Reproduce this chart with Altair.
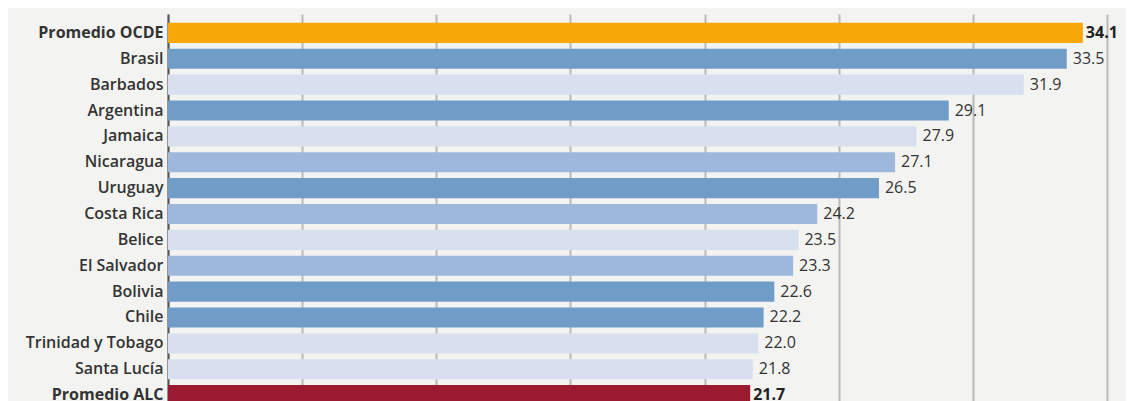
import altair as alt
import pandas as pd

countries = ["Promedio OCDE", "Brasil", "Barbados", "Argentina", "Jamaica", "Nicaragua",
             "Uruguay", "Costa Rica", "Belice", "El Salvador", "Bolivia", "Chile",
             "Trinidad y Tobago", "Santa Lucía", "Promedio ALC"]
values = [34.1, 33.5, 31.9, 29.1, 27.9, 27.1, 26.5, 24.2, 23.5, 23.3, 22.6, 22.2, 22.0, 21.8, 21.7]
groups = ["ocde", "dark", "light", "dark", "light", "mid", "dark", "mid", "light", "mid",
          "dark", "dark", "light", "light", "alc"]
highlight = ["Promedio OCDE", "Promedio ALC"]

group_domain = ["ocde", "dark", "mid", "light", "alc"]
group_colors = ["#f7a707", "#709dc8", "#9db8da", "#d8e0ef", "#9b1a2f"]

df = pd.DataFrame({"pais": countries, "valor": values, "grupo": groups})
df["destacado"] = df["pais"].isin(highlight)

FONT = "Open Sans"

y_enc = alt.Y("pais:N", sort=countries, title=None,
              scale=alt.Scale(paddingInner=0.22, paddingOuter=0.34),
              axis=alt.Axis(labelFont=FONT, labelFontSize=16, labelColor="#333333",
                            labelFontWeight={"condition": {"test": "datum.value == 'Promedio OCDE' || datum.value == 'Promedio ALC'", "value": "bold"}, "value": 600},
                            labelPadding=5, ticks=False, domain=True, domainColor="#555555",
                            domainWidth=2, grid=False, labelLimit=300))
x_enc = alt.X("valor:Q", title=None,
              scale=alt.Scale(domain=[0, 35], nice=False, zero=True),
              axis=alt.Axis(values=[0, 5, 10, 15, 20, 25, 30, 35], labels=False, ticks=False,
                            domain=False, grid=True, gridColor="#b9b9b9", gridWidth=2))

base = alt.Chart(df)

bars = base.mark_bar().encode(
    x=x_enc,
    y=y_enc,
    color=alt.Color("grupo:N", scale=alt.Scale(domain=group_domain, range=group_colors), legend=None),
)

labels_normal = base.transform_filter("!datum.destacado").mark_text(
    align="left", baseline="middle", dx=6, font=FONT, fontSize=16, fontWeight=500, color="#333333"
).encode(x="valor:Q", y=alt.Y("pais:N", sort=countries), text=alt.Text("valor:Q", format=".1f"))

labels_bold = base.transform_filter("datum.destacado").mark_text(
    align="left", baseline="middle", dx=3, font=FONT, fontSize=16, fontWeight="bold", color="#222222"
).encode(x="valor:Q", y=alt.Y("pais:N", sort=countries), text=alt.Text("valor:Q", format=".1f"))

chart = alt.layer(bars, labels_normal, labels_bold).properties(
    width=939,
    height=400,
    title=alt.TitleParams("Gráfico 2. Presión tributaria a nivel mundial: 2021 (en porcentaje del PIB)",
                          font=FONT, fontSize=20, fontWeight="bold", color="#000000",
                          anchor="middle", offset=9),
    background="#f3f3f1",
    padding={"left": 160, "top": 6, "right": 19, "bottom": 0},
    autosize=alt.AutoSizeParams(type="none"),
).configure_view(stroke=None)

chart.save("out.html", embed_options={"renderer": "svg", "actions": False})
